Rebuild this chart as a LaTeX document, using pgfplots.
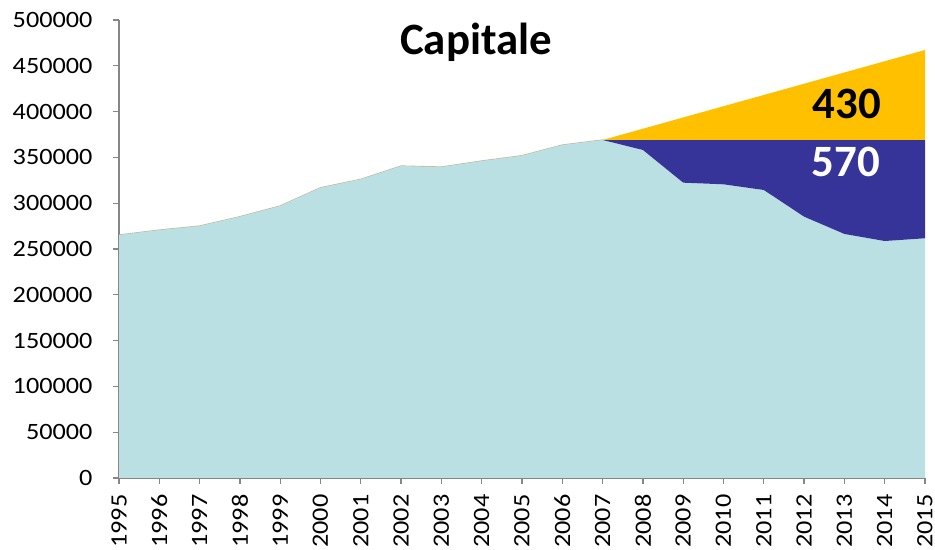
\documentclass[border=0pt]{standalone}
\usepackage{pgfplots}
\pgfplotsset{compat=1.18}
\usepackage{fontspec}
\setmainfont{Carlito}
\newfontfamily\tickfont[FakeStretch=1.12]{Carlito}
\definecolor{lb}{RGB}{187,224,227}
\definecolor{db}{RGB}{54,51,153}
\definecolor{yl}{RGB}{255,192,0}
\definecolor{axgray}{RGB}{134,134,134}
\definecolor{edgetan}{RGB}{200,182,145}
\begin{document}
\begin{tikzpicture}[x=1bp,y=1bp]
\path[use as bounding box] (0,0) rectangle (935,550);
\begin{axis}[
  at={(119bp,72bp)}, anchor=south west,
  width=806bp, height=458bp, scale only axis,
  xmin=1995, xmax=2015, ymin=0, ymax=500000,
  axis lines*=left,
  axis line style={color=axgray, line width=1.3pt, -},
  tick align=outside, major tick length=6bp,
  tick style={color=axgray, line width=1.3pt},
  xtick={1995,...,2015},
  ytick={0,50000,...,500000},
  scaled y ticks=false, scaled x ticks=false,
  /pgf/number format/.cd, fixed, precision=0, 1000 sep={}, assume math mode=true,
  /pgfplots/.cd,
  ticklabel style={font=\tickfont\fontsize{23.5}{27}\selectfont},
  yticklabel style={xshift=-17bp},
  xticklabel style={rotate=90, anchor=east, xshift=-7bp},
]
% thin edge line under the area
\addplot[draw=edgetan, line width=1.2pt] coordinates {
(1995,265300) (1996,270700) (1997,275100) (1998,285300) (1999,297000)
(2000,316900) (2001,326100) (2002,340600) (2003,339500) (2004,346100)
(2005,351900) (2006,363500) (2007,369000)};
% light blue area
\addplot[fill=lb, draw=none] coordinates {
(1995,265300) (1996,270700) (1997,275100) (1998,285300) (1999,297000)
(2000,316900) (2001,326100) (2002,340600) (2003,339500) (2004,346100)
(2005,351900) (2006,363500) (2007,369000) (2008,358100) (2009,322400)
(2010,320600) (2011,314400) (2012,285300) (2013,266400) (2014,258700)
(2015,261700)} \closedcycle;
% dark blue gap area
\addplot[fill=db, draw=none] coordinates {
(2007,369000) (2015,369000) (2015,261700) (2014,258700) (2013,266400)
(2012,285300) (2011,314400) (2010,320600) (2009,322400) (2008,358100)
(2007,369000)} -- cycle;
% yellow trend area
\addplot[fill=yl, draw=none] coordinates {
(2007,369000) (2015,467250) (2015,369000) (2007,369000)} -- cycle;
\node[font=\fontsize{45}{54}\selectfont\bfseries, anchor=base] at (rel axis cs:0.443,0.924) {Capitale};
\node[font=\fontsize{45}{54}\selectfont\bfseries, anchor=base] at (rel axis cs:0.903,0.784) {430};
\node[font=\fontsize{45}{54}\selectfont\bfseries, text=white, anchor=base] at (rel axis cs:0.902,0.658) {570};
\end{axis}
\end{tikzpicture}
\end{document}
